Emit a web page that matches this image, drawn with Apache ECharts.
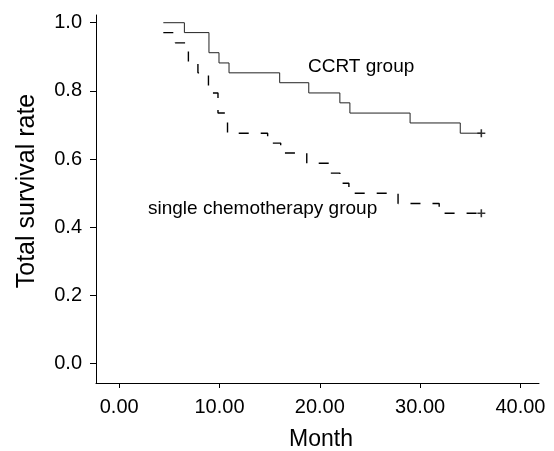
<!DOCTYPE html>
<html>
<head>
<meta charset="utf-8">
<style>
html, body { margin: 0; padding: 0; background: #fff; }
#main { width: 554px; height: 451px; }
</style>
</head>
<body>
<div id="main"></div>
<script src="https://cdn.jsdelivr.net/npm/echarts@6/dist/echarts.min.js"></script>
<script>
// tick labels
var monthTicks = [0, 10, 20, 30, 40];
var rateTicks = [0, 0.2, 0.4, 0.6, 0.8, 1.0];

// CCRT group : month of each step, survival rate after it
var ccrtMonth = [4.4, 6.5, 8.95, 9.95, 10.95, 16.0, 18.9, 22.0, 23.0, 29.0, 34.0, 36.1];
var ccrtRate  = [1.0, 0.971, 0.912, 0.882, 0.853, 0.824, 0.794, 0.765, 0.735, 0.706, 0.676, 0.676];

// single chemotherapy group
var chemoMonth = [4.4, 5.6, 6.9, 7.85, 8.9, 9.85, 10.8, 14.8, 16.1, 18.7, 20.9, 22.0, 22.9, 27.8, 31.9, 36.1];
var chemoRate  = [0.971, 0.941, 0.882, 0.853, 0.794, 0.735, 0.676, 0.647, 0.618, 0.588, 0.559, 0.529, 0.5, 0.47, 0.441, 0.441];

// censored cases (+)
var censorMonth = [36.1, 36.1];
var censorRate  = [0.676, 0.441];

var FONT = "'Liberation Sans', Arial, sans-serif";

function pairs(xs, ys) {
	var out = [];
	for (var i = 0; i < xs.length; i++) out.push([xs[i], ys[i]]);
	return out;
}

var option = {
	animation: false,
	backgroundColor: '#fff',
	textStyle: { fontFamily: FONT },
	grid: {
		left: 96, right: 15, top: 15, bottom: 68,
		containLabel: false,
		outerBoundsMode: 'none'
	},
	xAxis: {
		type: 'value',
		min: -2.31,
		max: 41.85,
		name: 'Month',
		nameLocation: 'middle',
		nameGap: 45,
		nameTextStyle: { fontSize: 23, color: '#000', fontFamily: FONT, padding: [0, 0, 0, 7] },
		axisLine: { show: true, onZero: false, lineStyle: { color: '#000', width: 1 } },
		axisTick: { show: true, length: 5, customValues: monthTicks, lineStyle: { color: '#000' } },
		axisLabel: {
			fontSize: 20, color: '#000', fontFamily: FONT, margin: 14,
			customValues: monthTicks,
			formatter: function (v) { return v.toFixed(2); }
		},
		splitLine: { show: false }
	},
	yAxis: {
		type: 'value',
		min: -0.0566,
		max: 1.0226,
		name: 'Total survival rate',
		nameLocation: 'middle',
		nameGap: 56,
		nameTextStyle: { fontSize: 25, color: '#000', fontFamily: FONT, padding: [0, 0, 0, 16] },
		axisLine: { show: true, onZero: false, lineStyle: { color: '#000', width: 1 } },
		axisTick: { show: true, length: 6, customValues: rateTicks, lineStyle: { color: '#000' } },
		axisLabel: {
			fontSize: 20, color: '#000', fontFamily: FONT, margin: 14,
			customValues: rateTicks,
			formatter: function (v) { return v.toFixed(1); }
		},
		splitLine: { show: false }
	},
	graphic: [
		{ type: 'text', left: 308, top: 57, style: { text: 'CCRT group', font: '19px ' + FONT, fill: '#000' } },
		{ type: 'text', left: 148, top: 199, style: { text: 'single chemotherapy group', font: '19px ' + FONT, fill: '#000' } }
	],
	series: [
		{
			type: 'line', step: 'end', showSymbol: false, silent: true,
			data: pairs(ccrtMonth, ccrtRate),
			lineStyle: { color: '#222', width: 1 }
		},
		{
			type: 'line', step: 'end', showSymbol: false, silent: true,
			data: pairs(chemoMonth, chemoRate),
			lineStyle: { color: '#000', width: 1.4, type: [10, 12] }
		},
		{
			type: 'scatter', silent: true,
			data: pairs(censorMonth, censorRate),
			symbol: 'path://M4,0H6V10H4ZM0,4H10V6H0Z',
			symbolSize: 8,
			itemStyle: { color: '#000' }
		}
	]
};

var chart = echarts.init(document.getElementById('main'));
chart.setOption(option);
window.addEventListener('resize', function () { chart.resize(); });
</script>
</body>
</html>
